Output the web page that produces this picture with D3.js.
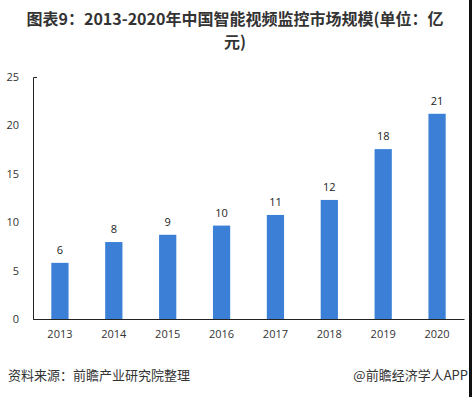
<!DOCTYPE html>
<html>
<head>
<meta charset="utf-8">
<script src="https://cdn.jsdelivr.net/npm/d3@7/dist/d3.min.js"></script>
<style>
  body { margin: 0; background: #fff; }
  svg { display: block; }
</style>
</head>
<body>
<div id="root"></div>
<script>
// chart data
const years = ['2013', '2014', '2015', '2016', '2017', '2018', '2019', '2020'];
const values = [5.8, 7.95, 8.7, 9.65, 10.75, 12.3, 17.55, 21.2];
const labels = ['6', '8', '9', '10', '11', '12', '18', '21'];
const yTicks = [0, 5, 10, 15, 20, 25];
const titleLines = ['图表9：2013-2020年中国智能视频监控市场规模(单位：亿', '元)'];

const W = 472, H = 397;
const margin = { top: 77, right: 8, bottom: 78, left: 33 };
const width = W - margin.left - margin.right,
  height = H - margin.top - margin.bottom;

const svg = d3.select('#root')
  .append('svg')
  .attr('width', W)
  .attr('height', H);

// title (wrapped over two lines like the original)
svg.selectAll('.title')
  .data(titleLines)
  .enter()
  .append('text')
  .attr('class', 'title')
  .attr('x', 235)
  .attr('y', (d, i) => i ? 48 : 25)
  .attr('text-anchor', 'middle')
  .attr('font-family', '"Noto Sans CJK SC", sans-serif')
  .attr('font-weight', 'bold')
  .attr('font-size', 16)
  .attr('fill', '#333')
  .text(d => d);

const g = svg.append('g')
  .attr('transform', `translate(${margin.left},${margin.top})`);

const x = d3.scaleBand()
  .domain(years)
  .range([0, width])
  .paddingInner(0.68)
  .paddingOuter(0.34);

const y = d3.scaleLinear()
  .domain([0, 25])
  .range([height, 0]);

// bars
g.selectAll('.bar')
  .data(years)
  .enter()
  .append('rect')
  .attr('class', 'bar')
  .attr('x', d => x(d))
  .attr('y', (d, i) => y(values[i]))
  .attr('width', x.bandwidth())
  .attr('height', (d, i) => height - y(values[i]))
  .attr('fill', '#3b80d6');

// value labels
g.selectAll('.lbl')
  .data(years)
  .enter()
  .append('text')
  .attr('class', 'lbl')
  .attr('x', d => x(d) + x.bandwidth() / 2)
  .attr('y', (d, i) => y(values[i]) - 9)
  .attr('text-anchor', 'middle')
  .attr('font-family', '"Open Sans", sans-serif')
  .attr('font-size', 11)
  .attr('fill', '#222')
  .text((d, i) => labels[i]);

// y axis
const yAxis = g.append('g')
  .call(d3.axisLeft(y).tickValues(yTicks).tickSize(0).tickSizeOuter(-4).tickPadding(14));
yAxis.select('.domain').attr('stroke', '#222');
yAxis.selectAll('text')
  .attr('font-family', '"Open Sans", sans-serif')
  .attr('font-size', 11)
  .attr('fill', '#333');

// x axis
const xAxis = g.append('g')
  .attr('transform', `translate(0,${height})`)
  .call(d3.axisBottom(x).tickSize(0).tickSizeOuter(0).tickPadding(11));
xAxis.select('.domain').attr('stroke', '#222');
xAxis.selectAll('text')
  .attr('font-family', '"Open Sans", sans-serif')
  .attr('font-size', 11)
  .attr('fill', '#333');

// footer
svg.append('text')
  .attr('x', 8).attr('y', 380)
  .attr('font-family', '"Noto Sans CJK SC", sans-serif')
  .attr('font-size', 13)
  .attr('fill', '#333')
  .text('资料来源：前瞻产业研究院整理');
svg.append('text')
  .attr('x', 468).attr('y', 380)
  .attr('text-anchor', 'end')
  .attr('font-family', '"Noto Sans CJK SC", sans-serif')
  .attr('font-size', 13)
  .attr('fill', '#333')
  .text('@前瞻经济学人APP');

// dark right edge of the image
svg.append('rect')
  .attr('x', 469).attr('y', 0)
  .attr('width', 3).attr('height', H)
  .attr('fill', '#111');
</script>
</body>
</html>
